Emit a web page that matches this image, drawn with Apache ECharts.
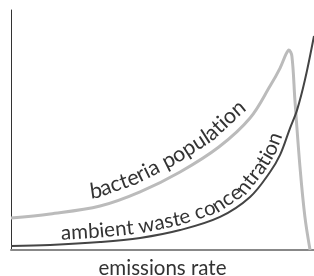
<!DOCTYPE html>
<html>
<head>
<meta charset="utf-8">
<style>
html, body { margin: 0; padding: 0; background: #fff; }
#main { width: 314px; height: 276px; }
</style>
<script src="https://cdn.jsdelivr.net/npm/echarts@6/dist/echarts.min.js"></script>
</head>
<body>
<div id="main"></div>
<script>
// curve values (x: emissions rate, y: level, both 0..100)
var bacteriaX = [0, 12.9, 29.4, 42.6, 55.8, 68.6, 78.9, 85.5, 88.8, 90.8, 91.7, 92.7, 93.7, 95.4, 97.0, 98.7];
var bacteriaY = [13.3, 15.0, 18.3, 24.2, 32.5, 42.9, 55.0, 68.3, 75.8, 81.7, 83.3, 80.8, 62.5, 34.2, 13.8, 0];
var wasteX = [0, 12.9, 29.4, 42.6, 55.8, 69.0, 78.9, 85.5, 88.8, 92.1, 94.4, 97.0, 100];
var wasteY = [1.7, 2.1, 3.3, 5.0, 8.3, 13.8, 22.1, 32.5, 39.6, 50.8, 58.3, 70.8, 89.2];
var labelTexts = ['bacteria population', 'ambient waste concentration'];
var axisName = 'emissions rate';

function pairs(xs, ys) {
    return xs.map(function (x, i) { return [x, ys[i]]; });
}

var bacteriaData = pairs(bacteriaX, bacteriaY);
var wasteData = pairs(wasteX, wasteY);

var FONT = 'Lato, "Open Sans", sans-serif';

var chart = echarts.init(document.getElementById('main'));
var option = {
    animation: false,
    grid: { left: 11, right: 0, top: 10, bottom: 26, containLabel: false, outerBoundsMode: 'none' },
    xAxis: {
        type: 'value', min: 0, max: 100,
        name: axisName, nameLocation: 'middle', nameGap: 8,
        nameTextStyle: { fontFamily: FONT, fontSize: 20.5, color: '#333', verticalAlign: 'top' },
        axisLine: { show: true, lineStyle: { color: '#888', width: 2 } },
        axisTick: { show: false }, axisLabel: { show: false }, splitLine: { show: false }
    },
    yAxis: {
        type: 'value', min: 0, max: 100,
        axisLine: { show: true, lineStyle: { color: '#333', width: 1 } },
        axisTick: { show: false }, axisLabel: { show: false }, splitLine: { show: false }
    },
    series: [
        {
            name: labelTexts[0], type: 'line', data: bacteriaData,
            smooth: 0.35, symbol: 'none',
            lineStyle: { color: '#bbbbbb', width: 3 }
        },
        {
            name: labelTexts[1], type: 'line', data: wasteData,
            smooth: 0.35, symbol: 'none',
            lineStyle: { color: '#444444', width: 2 }
        }
    ]
};
chart.setOption(option);

// 沿曲线排字
var ctx = document.createElement('canvas').getContext('2d');
ctx.font = '100px ' + FONT;

function curveLabel(data, text, x0, x1, gap) {
    var pts = data.map(function (d) { return chart.convertToPixel({ gridIndex: 0 }, d); });
    var px0 = chart.convertToPixel({ gridIndex: 0 }, [x0, 0])[0];
    var px1 = chart.convertToPixel({ gridIndex: 0 }, [x1, 0])[0];
    // densify
    var dense = [];
    for (var i = 0; i < pts.length - 1; i++) {
        var a = pts[i], b = pts[i + 1];
        var len = Math.hypot(b[0] - a[0], b[1] - a[1]);
        var n = Math.max(1, Math.ceil(len / 2));
        for (var k = 0; k < n; k++) {
            dense.push([a[0] + (b[0] - a[0]) * k / n, a[1] + (b[1] - a[1]) * k / n]);
        }
    }
    dense.push(pts[pts.length - 1]);
    // offset path (baseline)
    var base = [];
    for (var j = 0; j < dense.length; j++) {
        if (dense[j][0] < px0 || dense[j][0] > px1) continue;
        var p = dense[Math.max(0, j - 2)], q = dense[Math.min(dense.length - 1, j + 2)];
        var tx = q[0] - p[0], ty = q[1] - p[1], tl = Math.hypot(tx, ty);
        tx /= tl; ty /= tl;
        base.push([dense[j][0] + ty * gap, dense[j][1] - tx * gap]);
    }
    var cum = [0];
    for (var m = 1; m < base.length; m++) {
        cum.push(cum[m - 1] + Math.hypot(base[m][0] - base[m - 1][0], base[m][1] - base[m - 1][1]));
    }
    var L = cum[cum.length - 1];
    var widths = text.split('').map(function (ch) { return ctx.measureText(ch).width / 100; });
    var W = widths.reduce(function (s, w) { return s + w; }, 0);
    var fs = L / W;
    var els = [];
    var acc = 0;
    for (var c = 0; c < text.length; c++) {
        var s = (acc + widths[c] / 2) * fs;
        acc += widths[c];
        if (text[c] === ' ') continue;
        var idx = 1;
        while (idx < cum.length - 1 && cum[idx] < s) idx++;
        var u = base[idx - 1], v = base[idx];
        var seg = cum[idx] - cum[idx - 1] || 1;
        var t = (s - cum[idx - 1]) / seg;
        var x = u[0] + (v[0] - u[0]) * t, y = u[1] + (v[1] - u[1]) * t;
        var dx = (v[0] - u[0]) / seg, dy = (v[1] - u[1]) / seg;
        var up = fs * 0.3;
        els.push({
            type: 'text',
            x: x + dy * up, y: y - dx * up,
            rotation: -Math.atan2(dy, dx),
            style: {
                text: text[c], font: fs.toFixed(1) + 'px ' + FONT,
                fill: '#333', textAlign: 'center', textVerticalAlign: 'middle'
            }
        });
    }
    return els;
}

var labels = curveLabel(bacteriaData, labelTexts[0], 26.5, 80, 9)
    .concat(curveLabel(wasteData, labelTexts[1], 16.5, 91, 5));
chart.setOption({ graphic: { elements: labels } });
</script>
</body>
</html>
